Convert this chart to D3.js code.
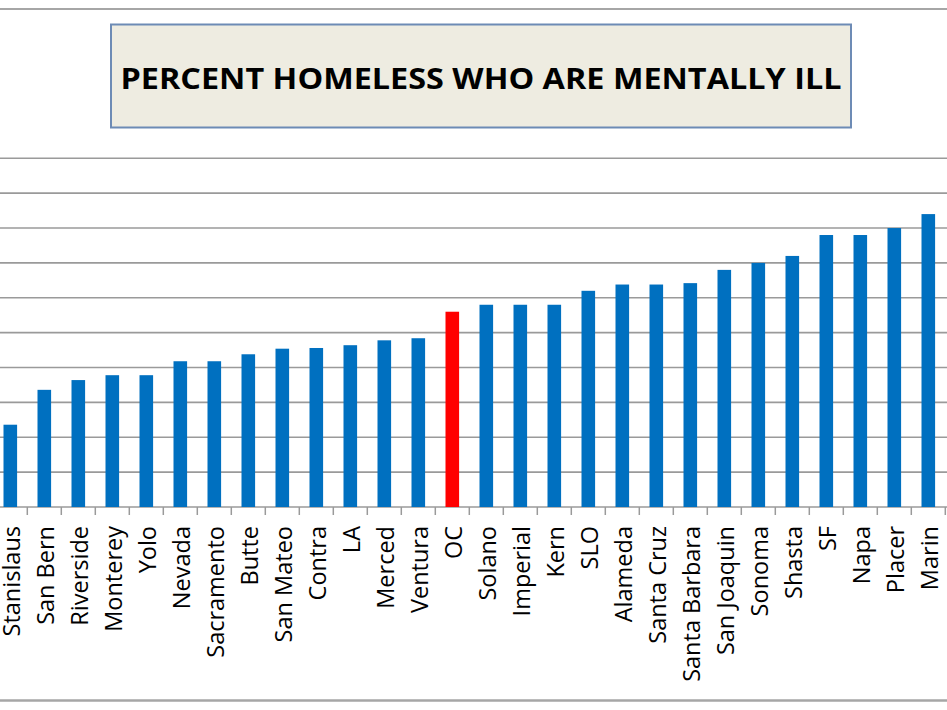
<!DOCTYPE html>
<html>
<head>
<meta charset="utf-8">
<script src="https://cdn.jsdelivr.net/npm/d3@7"></script>
<style>
  body { margin: 0; background: #fff; }
</style>
</head>
<body>
<script>
// counties, in the order they appear on the chart
const counties = ["Stanislaus", "San Bern", "Riverside", "Monterey", "Yolo", "Nevada",
  "Sacramento", "Butte", "San Mateo", "Contra", "LA", "Merced", "Ventura", "OC",
  "Solano", "Imperial", "Kern", "SLO", "Alameda", "Santa Cruz", "Santa Barbara",
  "San Joaquin", "Sonoma", "Shasta", "SF", "Napa", "Placer", "Marin"];

// percent homeless who are mentally ill
const percents = [11.8, 16.8, 18.2, 18.9, 18.9, 20.9, 20.9, 21.9, 22.7, 22.8, 23.2,
  23.9, 24.2, 28.0, 29.0, 29.0, 29.0, 31.0, 31.9, 31.9, 32.1, 34.0, 35.0, 36.0,
  39.0, 39.0, 40.0, 42.0];

const gridValues = [0, 5, 10, 15, 20, 25, 30, 35, 40, 45, 50];
const highlight = "OC";
const title = "PERCENT HOMELESS WHO ARE MENTALLY ILL";

const W = 947, H = 710;

const svg = d3.select("body").append("svg")
  .attr("width", W)
  .attr("height", H);

const x = d3.scaleBand()
  .domain(counties)
  .range([-6.7, 945.3])
  .paddingInner(0.6)
  .paddingOuter(0.3);

const y = d3.scaleLinear()
  .domain([0, 50])
  .range([507, 158.3]);

// frame lines top and bottom
svg.append("line")
  .attr("x1", 0).attr("x2", W).attr("y1", 9).attr("y2", 9)
  .attr("stroke", "#a6a6a6").attr("stroke-width", 2);
svg.append("line")
  .attr("x1", 0).attr("x2", W).attr("y1", 700.5).attr("y2", 700.5)
  .attr("stroke", "#a6a6a6").attr("stroke-width", 2.5);

// gridlines
svg.append("g")
  .selectAll("line")
  .data(gridValues)
  .join("line")
  .attr("x1", 0).attr("x2", W)
  .attr("y1", d => y(d)).attr("y2", d => y(d))
  .attr("stroke", "#9a9a9a")
  .attr("stroke-width", 1.6);

// bars
svg.append("g")
  .selectAll("rect")
  .data(counties)
  .join("rect")
  .attr("x", d => x(d))
  .attr("width", x.bandwidth())
  .attr("y", (d, i) => y(percents[i]))
  .attr("height", (d, i) => y(0) - y(percents[i]))
  .attr("fill", d => d == highlight ? "#ff0000" : "#0070c0");

// tick marks between categories
const step = x.step();
svg.append("g")
  .selectAll("line")
  .data(counties)
  .join("line")
  .attr("x1", d => x(d) + x.bandwidth() / 2 + step / 2)
  .attr("x2", d => x(d) + x.bandwidth() / 2 + step / 2)
  .attr("y1", y(0)).attr("y2", y(0) + 8)
  .attr("stroke", "#9a9a9a")
  .attr("stroke-width", 1.5);

// category labels
const axis = svg.append("g")
  .attr("transform", `translate(0,${y(0)})`)
  .call(d3.axisBottom(x).tickSize(0).tickSizeOuter(0));
axis.select(".domain").remove();
axis.selectAll("text")
  .attr("transform", "rotate(-90)")
  .attr("x", -19)
  .attr("y", 0)
  .attr("dy", "0.4em")
  .style("text-anchor", "end")
  .style("font-family", "'Open Sans', sans-serif")
  .style("font-size", "23.5px")
  .attr("fill", "#000");

// title box
svg.append("rect")
  .attr("x", 111).attr("y", 24.5)
  .attr("width", 740).attr("height", 103)
  .attr("fill", "#eeece1")
  .attr("stroke", "#6d8bb5")
  .attr("stroke-width", 2);

svg.append("text")
  .attr("x", 481).attr("y", 89)
  .attr("text-anchor", "middle")
  .attr("textLength", 721)
  .attr("lengthAdjust", "spacingAndGlyphs")
  .style("font-family", "'Open Sans', sans-serif")
  .style("font-weight", "bold")
  .style("font-size", "29px")
  .text(title);
</script>
</body>
</html>
